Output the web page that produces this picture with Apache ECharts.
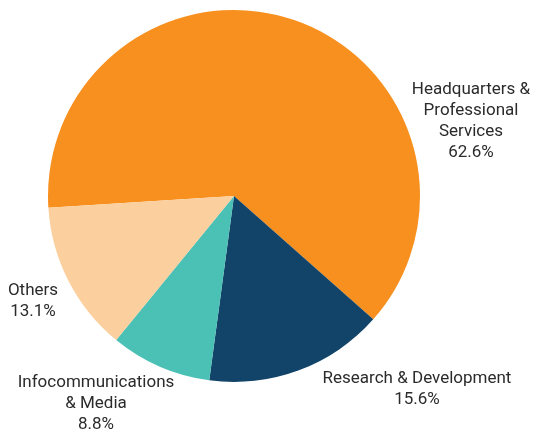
<!DOCTYPE html>
<html>
<head>
<meta charset="utf-8">
<script src="https://cdn.jsdelivr.net/npm/echarts@6/dist/echarts.min.js"></script>
<style>
  html, body { margin: 0; padding: 0; background: #ffffff; }
  #chart { width: 533px; height: 432px; }
</style>
</head>
<body>
<div id="chart"></div>
<script>
// Segment names, shares (%) and fill colours
const segments = ['Headquarters &\nProfessional\nServices', 'Research & Development', 'Infocommunications\n& Media', 'Others'];
const shares = [62.6, 15.6, 8.8, 13.1];
const colors = ['#F7901E', '#114468', '#4BC0B5', '#FBCF9E'];

// Where each label block is centred
const labelCenters = [[471, 121], [417, 389], [96, 404], [33, 301]];

const chart = echarts.init(document.getElementById('chart'), null, { renderer: 'canvas' });

chart.setOption({
  animation: false,
  backgroundColor: '#ffffff',
  series: [{
    type: 'pie',
    center: [234, 196],
    radius: [0, 186],
    startAngle: 183.6,
    clockwise: true,
    avoidLabelOverlap: false,
    data: segments.map((name, i) => ({
      name: name,
      value: shares[i],
      itemStyle: { color: colors[i] }
    })),
    itemStyle: { borderWidth: 0 },
    label: {
      show: true,
      position: 'outside',
      formatter: p => p.name + '\n' + p.value.toFixed(1) + '%',
      fontFamily: 'Roboto',
      fontSize: 17,
      lineHeight: 21,
      color: '#2b2b2b',
      align: 'center'
    },
    labelLine: { show: false },
    labelLayout: params => {
      const c = labelCenters[params.dataIndex];
      return { x: c[0], y: c[1], align: 'center', verticalAlign: 'middle' };
    },
    emphasis: { disabled: true }
  }]
});
</script>
</body>
</html>
